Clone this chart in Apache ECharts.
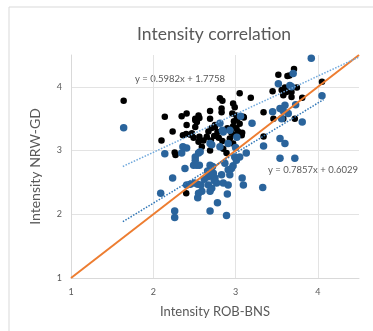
<!DOCTYPE html>
<html>
<head>
<meta charset="utf-8">
<script src="https://cdn.jsdelivr.net/npm/echarts@6.0.0/dist/echarts.min.js"></script>
<style>
  html, body { margin: 0; padding: 0; background: #fff; }
  #chart { width: 373px; height: 331px; }
</style>
</head>
<body>
<div id="chart"></div>
<script>
// black points (ROB-BNS, NRW-GD)
const blackPoints = [
  [1.64,3.78],[2.10,3.16],[2.14,3.53],[2.235,3.30],[2.26,2.97],[2.27,2.93],
  [2.345,3.54],[2.36,3.24],[2.40,3.26],[2.405,3.58],[2.405,3.40],[2.40,2.33],
  [2.45,3.25],[2.47,3.27],[2.49,3.20],[2.51,3.475],[2.51,3.50],[2.55,3.55],
  [2.53,3.45],[2.51,3.37],[2.56,3.51],[2.56,3.215],[2.55,3.14],[2.59,3.06],
  [2.61,3.16],[2.65,3.215],[2.67,3.30],[2.69,3.62],[2.69,3.50],[2.69,3.00],
  [2.71,3.355],[2.75,3.37],[2.75,3.40],[2.78,3.29],[2.74,3.23],[2.70,3.16],
  [2.795,3.20],[2.84,3.15],[2.81,3.82],[2.84,3.78],[2.83,3.66],[2.83,3.60],
  [2.85,3.03],[2.89,2.96],[2.90,3.35],[2.93,3.19],[2.99,3.25],[3.01,3.35],
  [2.97,3.74],[2.99,3.68],[3.01,3.55],[2.96,3.58],[2.98,3.46],[3.02,3.50],
  [3.05,3.42],[2.97,3.38],[3.03,3.30],[3.08,3.28],[3.10,3.52],[3.095,3.53],
  [2.95,3.28],[3.075,3.24],[2.97,3.11],[3.05,3.90],[3.185,3.83],[3.34,3.60],
  [3.34,3.22],[3.45,3.93],[3.46,3.50],[3.52,4.19],[3.56,3.95],[3.60,3.99],
  [3.62,3.92],[3.68,3.92],[3.58,3.87],[3.63,4.17],[3.655,4.18],[3.71,4.28],
  [3.745,3.99],[3.81,3.83],[3.68,3.84],[3.72,3.50],[3.58,3.50],[4.05,4.08]
];
// blue points (ROB-BNS, NRW-GD)
const bluePoints = [
  [1.64,3.36],[2.09,2.33],[2.14,2.95],[2.235,2.57],[2.26,2.05],[2.26,1.95],
  [2.345,2.96],[2.36,3.06],[2.405,3.04],[2.385,2.72],[2.405,2.46],[2.45,2.47],
  [2.50,2.49],[2.54,2.47],[2.58,2.46],[2.49,2.77],[2.51,2.85],[2.55,2.96],
  [2.56,2.77],[2.51,2.90],[2.57,2.98],[2.53,2.77],[2.54,2.26],[2.59,2.36],
  [2.55,2.33],[2.69,2.77],[2.73,2.645],[2.67,2.59],[2.75,2.57],[2.77,2.49],
  [2.67,2.46],[2.71,2.41],[2.69,2.36],[2.70,2.70],[2.72,2.75],[2.66,2.68],
  [2.74,2.53],[2.62,2.55],[2.70,2.62],[2.69,2.05],[2.78,2.18],[2.89,1.98],
  [2.90,2.32],[2.83,2.62],[2.85,2.49],[2.91,2.70],[2.95,2.72],[2.93,2.62],
  [2.91,2.46],[2.87,2.80],[2.99,2.90],[2.97,2.76],[3.01,2.85],[3.05,2.90],
  [3.08,2.57],[3.095,2.46],[3.33,2.42],[2.69,3.11],[2.71,3.09],[2.81,3.06],
  [2.84,3.32],[2.81,3.43],[2.85,3.29],[2.93,3.32],[2.91,3.11],[3.00,3.05],
  [3.015,3.21],[3.06,3.54],[3.13,2.96],[3.20,3.43],[3.34,3.07],[3.45,3.61],
  [3.52,4.05],[3.54,3.66],[3.58,3.62],[3.60,3.71],[3.64,3.58],[3.56,3.50],
  [3.54,3.19],[3.60,3.11],[3.54,2.88],[3.72,2.88],[3.66,4.02],[3.68,4.00],
  [3.70,4.21],[3.73,3.72],[3.81,3.45],[3.92,4.45],[4.05,3.86]
];
// trendlines: slope, intercept, x range
const blackFit = [0.5982, 1.7758];
const blackFitRange = [1.63, 4.5];
const blueFit = [0.7857, 0.6029];
const blueFitRange = [1.63, 4.07];
const identityLine = [[1, 1], [4.5, 4.5]];
const blackFitLabel = 'y = 0.5982x + 1.7758';
const blueFitLabel = 'y = 0.7857x + 0.6029';

function fitLine(fit, range) {
  return range.map(x => [x, fit[0] * x + fit[1]]);
}

let myChart = echarts.init(document.getElementById('chart'));
let labelFont = 'Lato, "Liberation Sans", sans-serif';
let option = {
  animation: false,
  title: {
    text: 'Intensity correlation',
    left: 132,
    top: 20,
    textStyle: { fontFamily: labelFont, fontSize: 17.5, fontWeight: 'normal', color: '#595959' }
  },
  grid: { left: 71, right: 14, top: 55, bottom: 53, containLabel: false, outerBoundsMode: 'none' },
  xAxis: {
    type: 'value',
    min: 1, max: 4.5, interval: 1,
    name: 'Intensity ROB-BNS',
    nameLocation: 'middle',
    nameGap: 27,
    nameTextStyle: { fontFamily: labelFont, fontSize: 13, color: '#595959' },
    axisLine: { show: true, lineStyle: { color: '#d9d9d9' } },
    axisTick: { show: false },
    axisLabel: { fontFamily: labelFont, fontSize: 9, color: '#595959', margin: 10, showMaxLabel: false },
    splitLine: { show: true, showMinLine: false, showMaxLine: false, lineStyle: { color: '#e3e3e3' } }
  },
  yAxis: {
    type: 'value',
    min: 1, max: 4.5, interval: 1,
    name: 'Intensity NRW-GD',
    nameLocation: 'middle',
    nameGap: 29,
    nameTextStyle: { fontFamily: labelFont, fontSize: 14, color: '#595959' },
    axisLine: { show: true, lineStyle: { color: '#d9d9d9' } },
    axisTick: { show: false },
    axisLabel: { fontFamily: labelFont, fontSize: 9, color: '#595959', margin: 9, showMaxLabel: false },
    splitLine: { show: true, showMinLine: false, showMaxLine: false, lineStyle: { color: '#e3e3e3' } }
  },
  graphic: [
    { type: 'rect', shape: { x: 9, y: 7, width: 420, height: 400 },
      style: { fill: 'none', stroke: '#d9d9d9', lineWidth: 1 }, silent: true },
    { type: 'text', left: 135, top: 74,
      style: { text: blackFitLabel, fontFamily: labelFont, fontSize: 9.5, fill: '#595959' } },
    { type: 'text', left: 268, top: 165,
      style: { text: blueFitLabel, fontFamily: labelFont, fontSize: 9.5, fill: '#595959' } }
  ],
  series: [
    {
      name: 'black',
      type: 'scatter',
      symbol: 'circle',
      symbolSize: 6.5,
      itemStyle: { color: '#000', opacity: 1 },
      data: blackPoints,
      z: 2
    },
    {
      name: 'blue',
      type: 'scatter',
      symbol: 'circle',
      symbolSize: 7.5,
      itemStyle: { color: '#2a649c', opacity: 1 },
      data: bluePoints,
      z: 3
    },
    {
      name: 'y=x',
      type: 'line',
      symbol: 'none',
      lineStyle: { color: '#ed7d31', width: 2 },
      data: identityLine,
      z: 4
    },
    {
      name: 'black fit',
      type: 'line',
      symbol: 'none',
      lineStyle: { color: '#6fa8dc', width: 1.5, type: 'dotted' },
      data: fitLine(blackFit, blackFitRange),
      z: 5
    },
    {
      name: 'blue fit',
      type: 'line',
      symbol: 'none',
      lineStyle: { color: '#2e75b6', width: 1.5, type: 'dotted' },
      data: fitLine(blueFit, blueFitRange),
      z: 5
    }
  ]
};
myChart.setOption(option);
</script>
</body>
</html>
